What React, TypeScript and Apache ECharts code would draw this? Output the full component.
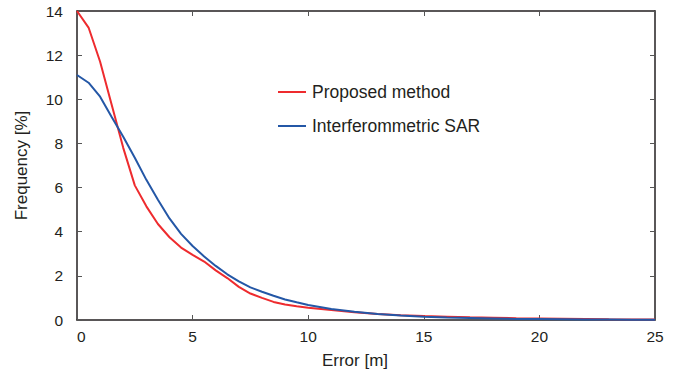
import React, { useEffect, useRef } from "react";
import * as echarts from "echarts";

const errorValues = [0, 0.5, 1, 1.5, 2, 2.5, 3, 3.5, 4, 4.5, 5, 5.5, 6, 6.5, 7, 7.5, 8, 8.5, 9, 9.5, 10, 11, 12, 13, 14, 15, 16, 17, 18, 19, 20, 21, 22, 23, 24, 25];
const proposedMethod = [14.0, 13.25, 11.7, 9.75, 7.8, 6.1, 5.15, 4.35, 3.75, 3.28, 2.95, 2.65, 2.25, 1.9, 1.5, 1.2, 1.0, 0.82, 0.7, 0.62, 0.56, 0.45, 0.35, 0.27, 0.22, 0.18, 0.15, 0.12, 0.1, 0.08, 0.07, 0.06, 0.05, 0.03, 0.02, 0.02];
const interferometricSAR = [11.1, 10.75, 10.12, 9.2, 8.3, 7.35, 6.35, 5.45, 4.6, 3.9, 3.35, 2.88, 2.45, 2.07, 1.75, 1.48, 1.28, 1.1, 0.93, 0.8, 0.68, 0.5, 0.37, 0.27, 0.2, 0.15, 0.11, 0.09, 0.07, 0.05, 0.04, 0.03, 0.02, 0.02, 0.01, 0.01];
const seriesNames = ["Proposed method", "Interferommetric SAR"];
const seriesColors = ["#ee2b2e", "#2457a6"];
const xAxisName = "Error [m]";
const yAxisName = "Frequency [%]";

const FONT = "'Liberation Sans', Arial, Helvetica, sans-serif";
const TEXT = "#231f20";

export default function App() {
  const ref = useRef<HTMLDivElement>(null);
  useEffect(() => {
    if (!ref.current) return;
    const chart = echarts.init(ref.current, null, { renderer: "svg" });
    const pairs = (ys: number[]) => errorValues.map((x, i) => [x, ys[i]]);
    const axisLine = { show: true, onZero: false, lineStyle: { color: "#231f20", width: 1.5 } };
    const ticks = { show: true, inside: true, length: 5, lineStyle: { color: "#555", width: 1 } };
    const legendGraphics = seriesNames.flatMap((name, i) => {
      const cy = 92 + i * 34;
      return [
        { type: "line", shape: { x1: 278, y1: cy, x2: 306, y2: cy }, style: { stroke: seriesColors[i], lineWidth: 2 } },
        {
          type: "text",
          x: 312,
          y: cy,
          style: { text: name, fontFamily: FONT, fontSize: 17.5, fill: TEXT, textVerticalAlign: "middle", verticalAlign: "middle" },
        },
      ];
    });
    chart.setOption({
      animation: false,
      backgroundColor: "#fff",
      textStyle: { fontFamily: FONT },
      grid: { left: 77, top: 11, right: 30, bottom: 59 },
      graphic: legendGraphics,
      xAxis: [
        {
          type: "value",
          min: 0,
          max: 25,
          interval: 5,
          position: "bottom",
          name: xAxisName,
          nameLocation: "middle",
          nameGap: 32,
          nameTextStyle: { fontFamily: FONT, fontSize: 17, color: TEXT, padding: [0, 22, 0, 0] },
          axisLine,
          axisTick: ticks,
          axisLabel: { fontFamily: FONT, fontSize: 15.5, color: TEXT, margin: 8, alignMinLabel: "left" },
          splitLine: { show: false },
        },
        {
          type: "value",
          min: 0,
          max: 25,
          interval: 5,
          position: "top",
          axisLine,
          axisTick: ticks,
          axisLabel: { show: false },
          splitLine: { show: false },
        },
      ],
      yAxis: [
        {
          type: "value",
          min: 0,
          max: 14,
          interval: 2,
          position: "left",
          name: yAxisName,
          nameLocation: "middle",
          nameGap: 47,
          nameTextStyle: { fontFamily: FONT, fontSize: 17, color: TEXT },
          axisLine,
          axisTick: ticks,
          axisLabel: { fontFamily: FONT, fontSize: 15.5, color: TEXT, margin: 14 },
          splitLine: { show: false },
        },
        {
          type: "value",
          min: 0,
          max: 14,
          interval: 2,
          position: "right",
          axisLine,
          axisTick: ticks,
          axisLabel: { show: false },
          splitLine: { show: false },
        },
      ],
      series: [
        {
          name: seriesNames[0],
          type: "line",
          data: pairs(proposedMethod),
          symbol: "none",
          smooth: false,
          lineStyle: { color: seriesColors[0], width: 2 },
          itemStyle: { color: seriesColors[0] },
        },
        {
          name: seriesNames[1],
          type: "line",
          data: pairs(interferometricSAR),
          symbol: "none",
          smooth: false,
          lineStyle: { color: seriesColors[1], width: 2 },
          itemStyle: { color: seriesColors[1] },
        },
      ],
    });
    return () => chart.dispose();
  }, []);
  return <div ref={ref} style={{ width: 685, height: 379, position: "absolute", left: 0, top: 0 }} />;
}
